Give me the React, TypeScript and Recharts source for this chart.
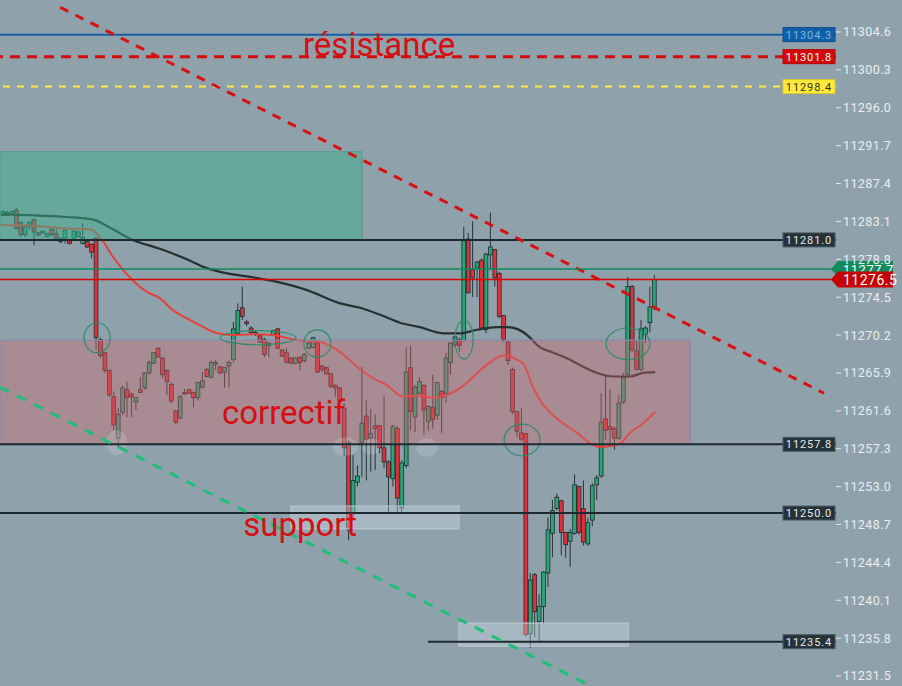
import {
  Bar,
  ComposedChart,
  Line,
  ReferenceArea,
  ReferenceDot,
  ReferenceLine,
  XAxis,
  YAxis,
} from "recharts";

// candles, one per slot
const opens = [
  11283.8, 11283.8, 11283.9, 11284.4, 11283.0, 11281.6, 11282.5, 11283.3, 11281.8, 11281.8,
  11281.4, 11282.2, 11281.7, 11280.8, 11281.2, 11280.9, 11281.1, 11281.4, 11280.6, 11280.8,
  11280.5, 11281.2, 11269.7, 11268.2, 11266.2, 11263.2, 11258.5, 11261.4, 11264.0, 11263.5,
  11262.6, 11264.0, 11264.2, 11265.9, 11267.0, 11268.7, 11267.6, 11266.2, 11264.6, 11261.6,
  11260.8, 11263.7, 11264.0, 11263.7, 11263.1, 11264.3, 11266.3, 11265.4, 11266.9, 11266.6,
  11266.0, 11266.7, 11267.4, 11270.4, 11273.3, 11271.7, 11271.0, 11270.3, 11270.2, 11269.7,
  11269.0, 11270.2, 11270.9, 11268.5, 11268.2, 11267.6, 11267.0, 11267.7, 11267.3, 11268.7,
  11268.8, 11269.3, 11266.7, 11266.5, 11265.8, 11264.5, 11264.2, 11261.9, 11258.0, 11249.9,
  11253.5, 11258.0, 11261.0, 11258.5, 11259.9, 11259.9, 11257.4, 11255.8, 11253.9, 11259.6,
  11250.6, 11255.4, 11266.5, 11260.9, 11263.6, 11264.5, 11260.4, 11262.0, 11261.1, 11263.8,
  11263.6, 11267.1, 11269.1, 11269.7, 11269.6, 11281.1, 11277.6, 11277.8, 11278.7, 11270.8,
  11279.3, 11279.9, 11277.2, 11272.4, 11269.4, 11266.3, 11261.5, 11259.1, 11259.0, 11236.3,
  11243.0, 11237.7, 11239.4, 11243.2, 11247.7, 11250.5, 11251.4, 11247.8, 11246.8, 11247.7,
  11253.0, 11250.5, 11246.5, 11249.2, 11253.2, 11254.2, 11260.7, 11259.8, 11259.6, 11258.5,
  11262.6, 11265.7, 11275.7, 11268.4, 11266.3, 11270.3, 11271.6, 11273.3,
];
const closes = [
  11284.2, 11284.1, 11284.2, 11282.3, 11281.6, 11282.5, 11283.0, 11281.9, 11281.6, 11282.0,
  11281.7, 11281.6, 11281.2, 11281.2, 11282.1, 11280.6, 11282.0, 11281.9, 11281.3, 11280.2,
  11279.6, 11269.9, 11267.9, 11266.2, 11263.4, 11260.0, 11261.2, 11264.2, 11263.1, 11263.2,
  11263.1, 11263.7, 11265.9, 11267.1, 11268.2, 11267.7, 11265.7, 11264.9, 11262.7, 11260.3,
  11263.2, 11263.5, 11263.6, 11263.1, 11264.8, 11265.0, 11265.5, 11267.1, 11267.1, 11265.9,
  11266.5, 11267.1, 11270.9, 11273.0, 11272.3, 11271.5, 11270.5, 11270.5, 11269.4, 11268.0,
  11269.3, 11270.7, 11268.7, 11267.8, 11267.1, 11267.0, 11267.6, 11267.1, 11268.0, 11269.3,
  11269.9, 11266.0, 11266.3, 11265.8, 11264.4, 11264.2, 11262.7, 11257.4, 11248.1, 11253.7,
  11254.2, 11260.2, 11258.4, 11259.0, 11259.6, 11257.4, 11255.8, 11254.1, 11259.8, 11251.7,
  11255.7, 11266.0, 11261.5, 11264.3, 11264.9, 11261.7, 11262.1, 11260.6, 11264.8, 11263.1,
  11267.6, 11269.3, 11270.0, 11269.0, 11280.9, 11275.0, 11276.7, 11278.5, 11271.0, 11279.4,
  11280.2, 11276.7, 11272.3, 11269.7, 11267.3, 11261.5, 11259.3, 11258.4, 11236.2, 11242.4,
  11238.8, 11239.4, 11243.3, 11248.1, 11250.3, 11251.8, 11247.8, 11246.4, 11247.8, 11253.2,
  11247.8, 11246.7, 11248.9, 11253.1, 11254.0, 11260.3, 11259.4, 11259.5, 11258.5, 11262.5,
  11265.4, 11275.7, 11268.5, 11266.3, 11270.9, 11271.0, 11273.4, 11276.5,
];
const highs = [
  11284.4, 11284.3, 11284.4, 11284.6, 11283.1, 11282.6, 11283.1, 11283.4, 11281.9, 11282.1,
  11281.8, 11282.3, 11282.2, 11281.3, 11282.2, 11281.0, 11282.1, 11282.0, 11282.9, 11280.9,
  11280.6, 11281.3, 11269.9, 11268.3, 11266.3, 11263.8, 11261.9, 11264.5, 11264.9, 11263.7,
  11263.2, 11265.4, 11266.0, 11267.3, 11268.3, 11268.8, 11267.7, 11266.3, 11264.8, 11261.7,
  11263.4, 11264.1, 11264.1, 11263.8, 11264.9, 11266.0, 11266.5, 11267.3, 11267.4, 11266.7,
  11266.6, 11267.3, 11271.7, 11273.8, 11275.7, 11271.9, 11271.2, 11270.7, 11270.3, 11269.9,
  11269.4, 11270.8, 11271.0, 11268.6, 11268.7, 11267.7, 11267.7, 11267.8, 11268.2, 11269.4,
  11270.0, 11269.4, 11266.8, 11266.6, 11265.9, 11264.6, 11264.3, 11262.5, 11258.3, 11256.6,
  11255.4, 11266.6, 11262.8, 11261.8, 11261.2, 11260.0, 11263.2, 11256.0, 11260.0, 11259.9,
  11256.0, 11268.8, 11269.0, 11264.5, 11265.4, 11264.6, 11262.2, 11265.7, 11264.9, 11264.0,
  11268.2, 11269.4, 11270.1, 11269.9, 11282.5, 11281.8, 11283.1, 11278.6, 11278.9, 11279.5,
  11284.1, 11280.0, 11277.4, 11272.5, 11269.5, 11266.5, 11261.6, 11261.9, 11259.1, 11243.2,
  11243.2, 11240.8, 11243.4, 11249.5, 11251.5, 11252.2, 11251.5, 11247.9, 11248.2, 11254.4,
  11253.1, 11253.7, 11249.5, 11253.4, 11254.3, 11263.6, 11265.7, 11264.0, 11259.8, 11263.4,
  11265.9, 11276.8, 11275.9, 11269.6, 11271.9, 11271.2, 11275.7, 11277.0,
];
const lows = [
  11283.7, 11283.7, 11283.8, 11282.2, 11281.3, 11281.3, 11282.2, 11280.4, 11281.4, 11281.7,
  11281.3, 11281.4, 11281.0, 11280.6, 11280.6, 11280.5, 11281.0, 11281.3, 11280.5, 11280.1,
  11278.9, 11268.5, 11267.6, 11265.9, 11263.2, 11259.4, 11257.4, 11261.1, 11260.9, 11260.9,
  11261.7, 11263.6, 11264.0, 11265.7, 11266.9, 11267.6, 11265.3, 11263.4, 11262.5, 11260.1,
  11260.6, 11263.4, 11263.5, 11262.0, 11262.8, 11264.1, 11265.4, 11265.3, 11266.2, 11265.8,
  11264.2, 11264.3, 11267.1, 11270.2, 11271.9, 11271.2, 11270.2, 11270.1, 11269.3, 11267.7,
  11267.7, 11270.1, 11268.6, 11267.7, 11267.0, 11266.9, 11266.9, 11266.2, 11267.1, 11268.6,
  11268.7, 11265.9, 11266.0, 11265.7, 11264.2, 11263.2, 11262.1, 11256.5, 11246.9, 11249.2,
  11253.0, 11254.1, 11253.7, 11254.7, 11254.9, 11256.8, 11255.1, 11250.0, 11253.0, 11250.0,
  11250.0, 11255.1, 11259.4, 11259.2, 11263.5, 11258.9, 11259.4, 11259.6, 11260.6, 11259.1,
  11262.5, 11265.7, 11268.8, 11268.3, 11269.5, 11274.9, 11274.5, 11274.5, 11270.8, 11270.4,
  11277.6, 11275.7, 11272.1, 11269.4, 11266.8, 11261.2, 11258.6, 11258.2, 11236.0, 11234.7,
  11235.9, 11235.4, 11237.4, 11241.6, 11245.0, 11250.3, 11245.2, 11244.9, 11243.9, 11247.5,
  11247.5, 11246.3, 11246.3, 11248.5, 11251.5, 11254.0, 11258.3, 11257.5, 11257.2, 11258.3,
  11262.4, 11265.4, 11268.3, 11266.2, 11266.1, 11269.3, 11270.5, 11273.0,
];

// moving averages, read at points along the curves
const fastMaAt = [
  -0.68, 6.8, 14.4, 19.6, 21.9, 24.8, 27.1, 29.3, 32.5, 35.4, 38.4, 41.5, 44.5, 48.3, 51.9, 55.8,
  60.9, 65.5, 71.6, 74.5, 77.7, 80.6, 83.5, 86.7, 90.3, 94.1, 97.1, 100.2, 103.2, 104.7, 107.7,
  109.9, 112.2, 114.0, 116.0, 117.4, 119.6, 121.9, 123.5, 126.4, 129.6, 132.5, 134.8, 137.0,
  139.3, 141.5, 144.5, 147.2,
];
const fastMa = [
  11282.7, 11282.6, 11282.3, 11282.2, 11281.3, 11279.1, 11277.6, 11276.4, 11275.1, 11274.4,
  11273.0, 11272.1, 11271.3, 11270.4, 11270.2, 11270.3, 11270.2, 11269.7, 11269.4, 11268.8,
  11267.6, 11266.3, 11265.3, 11264.5, 11263.2, 11263.3, 11263.1, 11263.4, 11264.2, 11264.8,
  11266.2, 11267.1, 11267.8, 11267.9, 11267.4, 11267.0, 11264.3, 11262.3, 11261.4, 11260.2,
  11259.1, 11257.9, 11257.5, 11257.6, 11257.9, 11259.1, 11260.2, 11261.5,
];
const slowMaAt = [
  -0.68, 6.8, 14.4, 20.3, 24.8, 29.3, 35.4, 41.5, 46.0, 50.6, 55.8, 60.3, 68.6, 76.1, 80.6, 85.1,
  89.6, 94.1, 99.3, 103.2, 107.0, 111.5, 113.8, 116.0, 118.3, 121.2, 124.2, 128.0, 130.9, 134.1,
  137.7, 141.5, 144.5, 147.2,
];
const slowMa = [
  11283.9, 11283.8, 11283.6, 11283.3, 11282.2, 11281.0, 11280.0, 11278.8, 11277.8, 11277.2,
  11276.8, 11276.4, 11275.3, 11273.8, 11273.3, 11272.5, 11271.6, 11271.1, 11270.4, 11270.4,
  11270.8, 11271.1, 11271.1, 11270.9, 11270.2, 11268.8, 11268.2, 11267.4, 11266.6, 11265.9,
  11265.5, 11265.5, 11265.9, 11266.0,
];

const priceTicks = [
  11304.6, 11300.3, 11296.0, 11291.7, 11287.4, 11283.1, 11278.8, 11274.5, 11270.2, 11265.9,
  11261.6, 11257.3, 11253.0, 11248.7, 11244.4, 11240.1, 11235.8, 11231.5,
];

// drawn levels
const levelBlue = 11304.3;
const levelRed = 11301.8;
const levelYellow = 11298.4;
const levelsDark = [11281.0, 11257.8, 11250.0];
const levelLow = 11235.4;
const lastAsk = 11277.7;
const lastPrice = 11276.5;

const X_DOMAIN: [number, number] = [-0.68, 188];
const Y_DOMAIN: [number, number] = [11230.37, 11308.23];

const candles = opens.map((o, i) => ({ i, o, c: closes[i], h: highs[i], l: lows[i] }));
const fastLine = fastMaAt.map((i, k) => ({ i, v: fastMa[k] }));
const slowLine = slowMaAt.map((i, k) => ({ i, v: slowMa[k] }));

// annotation zones [x1, x2, y1, y2]
const zoneSupply = [-0.68, 81.0, 11291.0, 11281.0];
const zoneCorrectif = [-0.68, 155.1, 11269.6, 11257.8];
const boxes = [
  [65.0, 102.9, 11250.8, 11248.2],
  [102.9, 141.1, 11237.5, 11234.9],
];
const rings = [
  [18.3, 24.2, 11271.6, 11268.2],
  [49.0, 66.1, 11270.7, 11269.1],
  [67.9, 74.0, 11270.8, 11267.7],
  [102.0, 106.1, 11271.9, 11267.5],
  [113.1, 121.2, 11260.1, 11256.5],
  [136.1, 146.0, 11271.0, 11267.4],
];
const blobs = [
  [23.3, 28.0, 11259.4, 11256.6],
  [74.3, 80.1, 11258.6, 11256.5],
  [81.0, 85.1, 11258.5, 11256.6],
  [93.2, 98.2, 11258.5, 11256.4],
];
const trendDown = [
  { x: 12.9, y: 11307.4 },
  { x: 185.3, y: 11263.6 },
];
const trendSupport = [
  { x: -0.68, y: 11264.3 },
  { x: 131.4, y: 11230.7 },
];
const levelLowFrom = 95.9;
const words = [
  { text: "résistance", x: 67.7, y: 11301.9 },
  { text: "correctif", x: 49.4, y: 11260.1 },
  { text: "support", x: 54.2, y: 11247.4 },
];

function Candle(props: any) {
  const { x, width, payload } = props;
  let { y, height } = props;
  if (x == null || !payload) return null;
  if (height < 0) {
    y += height;
    height = -height;
  }
  const cx = x + width / 2;
  const k = height / (payload.h - payload.l);
  const top = y + (payload.h - Math.max(payload.o, payload.c)) * k;
  const bottom = y + (payload.h - Math.min(payload.o, payload.c)) * k;
  const up = payload.c >= payload.o;
  return (
    <g>
      <line x1={cx} x2={cx} y1={y} y2={y + height} stroke="#263238" strokeWidth={1} />
      <rect
        x={cx - 1.9}
        y={top}
        width={3.8}
        height={Math.max(bottom - top, 1.2)}
        fill={up ? "#27a677" : "#e2303b"}
        stroke="#1f2b2e"
        strokeWidth={0.8}
      />
    </g>
  );
}

function PlotTag({ viewBox, text, fill, color, stroke }: any) {
  if (!viewBox) return null;
  const right = viewBox.x + viewBox.width;
  const cy = viewBox.y;
  return (
    <g>
      <rect x={right - 53} y={cy - 7} width={52} height={14} fill={fill} stroke={stroke} strokeWidth={1} />
      <text
        x={right - 27}
        y={cy}
        dy="0.36em"
        textAnchor="middle"
        fill={color}
        fontSize={11}
        fontFamily="Roboto, sans-serif"
        letterSpacing={0.9}
      >
        {text}
      </text>
    </g>
  );
}

function AxisTag({ viewBox, text, fill, size }: any) {
  if (!viewBox) return null;
  const x0 = viewBox.x + viewBox.width - 5;
  const cy = viewBox.y;
  const pts = `${x0},${cy} ${x0 + 7},${cy - 8} ${x0 + 62},${cy - 8} ${x0 + 62},${cy + 8} ${x0 + 7},${cy + 8}`;
  return (
    <g>
      <polygon points={pts} fill={fill} />
      <text
        x={x0 + 12}
        y={cy}
        dy="0.36em"
        fill="#ffffff"
        fontSize={size}
        fontFamily="Roboto, sans-serif"
        letterSpacing={0.5}
      >
        {text}
      </text>
    </g>
  );
}

const ring = (p: any) => (
  <ellipse
    cx={p.x + p.width / 2}
    cy={p.y + p.height / 2}
    rx={p.width / 2}
    ry={p.height / 2}
    fill="none"
    stroke="#2f8c68"
    strokeWidth={1.2}
  />
);

const blob = (p: any) => (
  <ellipse
    cx={p.x + p.width / 2}
    cy={p.y + p.height / 2}
    rx={p.width / 2}
    ry={p.height / 2}
    fill="rgba(225,232,238,0.2)"
  />
);

export default function App() {
  return (
    <div style={{ position: "absolute", left: 0, top: 0, width: 902, height: 686, background: "#8fa2ac" }}>
      <ComposedChart width={902} height={686} data={candles} margin={{ top: 0, right: 0, bottom: 0, left: 0 }}>
        <XAxis dataKey="i" type="number" domain={X_DOMAIN} hide allowDataOverflow />
        <YAxis
          orientation="right"
          domain={Y_DOMAIN}
          ticks={priceTicks}
          interval={0}
          width={66}
          allowDataOverflow
          axisLine={false}
          tickSize={5}
          tickMargin={2}
          tickLine={{ stroke: "#e3e9ec" }}
          tick={{ fill: "#e9eef1", fontSize: 12.5, fontFamily: "Roboto, sans-serif", letterSpacing: 0.4 }}
          tickFormatter={(v: number) => v.toFixed(1)}
        />
        <Bar dataKey={(d: any) => [d.l, d.h]} barSize={4} shape={Candle} isAnimationActive={false} />
        <Line
          data={slowLine}
          dataKey="v"
          type="monotone"
          stroke="#25302f"
          strokeWidth={2.2}
          dot={false}
          activeDot={false}
          isAnimationActive={false}
        />
        <Line
          data={fastLine}
          dataKey="v"
          type="monotone"
          stroke="#e5413b"
          strokeWidth={2}
          dot={false}
          activeDot={false}
          isAnimationActive={false}
        />

        <ReferenceArea
          x1={zoneSupply[0]}
          x2={zoneSupply[1]}
          y1={zoneSupply[2]}
          y2={zoneSupply[3]}
          fill="rgb(62,176,140)"
          fillOpacity={0.5}
          stroke="#5a9f93"
          strokeWidth={1.5}
          ifOverflow="visible"
          zIndex={450}
        />
        <ReferenceArea
          x1={zoneCorrectif[0]}
          x2={zoneCorrectif[1]}
          y1={zoneCorrectif[2]}
          y2={zoneCorrectif[3]}
          fill="rgb(205,106,110)"
          fillOpacity={0.4}
          stroke="#8c88a8"
          strokeOpacity={0.8}
          strokeWidth={1.5}
          ifOverflow="visible"
          zIndex={450}
        />
        {boxes.map((b, k) => (
          <ReferenceArea
            key={`box${k}`}
            x1={b[0]}
            x2={b[1]}
            y1={b[2]}
            y2={b[3]}
            fill="rgb(215,226,234)"
            fillOpacity={0.35}
            stroke="#b9c6ce"
            strokeWidth={1.2}
            ifOverflow="visible"
            zIndex={455}
          />
        ))}
        {blobs.map((b, k) => (
          <ReferenceArea key={`blob${k}`} x1={b[0]} x2={b[1]} y1={b[2]} y2={b[3]} shape={blob} ifOverflow="visible" zIndex={456} />
        ))}
        {rings.map((r, k) => (
          <ReferenceArea key={`ring${k}`} x1={r[0]} x2={r[1]} y1={r[2]} y2={r[3]} shape={ring} ifOverflow="visible" zIndex={457} />
        ))}

        {levelsDark.map((v) => (
          <ReferenceLine
            key={v}
            y={v}
            stroke="#1f2a30"
            strokeWidth={2}
            ifOverflow="visible"
            zIndex={470}
            label={(p: any) => (
              <PlotTag viewBox={p.viewBox} text={v.toFixed(1)} fill="#263238" color="#e4e9ec" stroke="#4b5b63" />
            )}
          />
        ))}
        <ReferenceLine
          segment={[
            { x: levelLowFrom, y: levelLow },
            { x: X_DOMAIN[1], y: levelLow },
          ]}
          stroke="#1f2a30"
          strokeWidth={2}
          ifOverflow="visible"
          zIndex={470}
          label={(p: any) => (
            <PlotTag viewBox={p.viewBox} text={levelLow.toFixed(1)} fill="#263238" color="#e4e9ec" stroke="#4b5b63" />
          )}
        />
        <ReferenceLine
          y={levelBlue}
          stroke="#1a5ea6"
          strokeWidth={2}
          ifOverflow="visible"
          zIndex={470}
          label={(p: any) => (
            <PlotTag viewBox={p.viewBox} text={levelBlue.toFixed(1)} fill="#115fa6" color="#7db6e8" stroke="#0d4f8c" />
          )}
        />
        <ReferenceLine
          y={levelRed}
          stroke="#d60a0a"
          strokeWidth={3}
          strokeDasharray="10 7"
          ifOverflow="visible"
          zIndex={470}
          label={(p: any) => (
            <PlotTag viewBox={p.viewBox} text={levelRed.toFixed(1)} fill="#d20a0a" color="#ffffff" stroke="#b30808" />
          )}
        />
        <ReferenceLine
          y={levelYellow}
          stroke="#ffeb3b"
          strokeWidth={2}
          strokeDasharray="7 7"
          ifOverflow="visible"
          zIndex={470}
          label={(p: any) => (
            <PlotTag viewBox={p.viewBox} text={levelYellow.toFixed(1)} fill="#ffea3a" color="#333333" stroke="#d8c430" />
          )}
        />
        <ReferenceLine
          segment={trendDown}
          stroke="#d91010"
          strokeWidth={3}
          strokeDasharray="9 8"
          ifOverflow="visible"
          zIndex={475}
        />
        <ReferenceLine
          segment={trendSupport}
          stroke="#1dbf7b"
          strokeWidth={3}
          strokeDasharray="10 9"
          ifOverflow="visible"
          zIndex={475}
        />
        <ReferenceLine
          y={lastAsk}
          stroke="#0f8a5c"
          strokeWidth={1.4}
          ifOverflow="visible"
          zIndex={480}
          label={(p: any) => <AxisTag viewBox={p.viewBox} text={lastAsk.toFixed(1)} fill="#118a5e" size={13} />}
        />
        <ReferenceLine
          y={lastPrice}
          stroke="#d80000"
          strokeWidth={1.4}
          ifOverflow="visible"
          zIndex={481}
          label={(p: any) => <AxisTag viewBox={p.viewBox} text={lastPrice.toFixed(1)} fill="#c40000" size={14} />}
        />

        {words.map((w) => (
          <ReferenceDot
            key={w.text}
            x={w.x}
            y={w.y}
            r={0}
            ifOverflow="visible"
            zIndex={600}
            shape={(p: any) => (
              <text x={p.cx} y={p.cy} fill="#d50f12" fontSize={33} fontFamily="Roboto, sans-serif">
                {w.text}
              </text>
            )}
          />
        ))}
      </ComposedChart>
    </div>
  );
}
